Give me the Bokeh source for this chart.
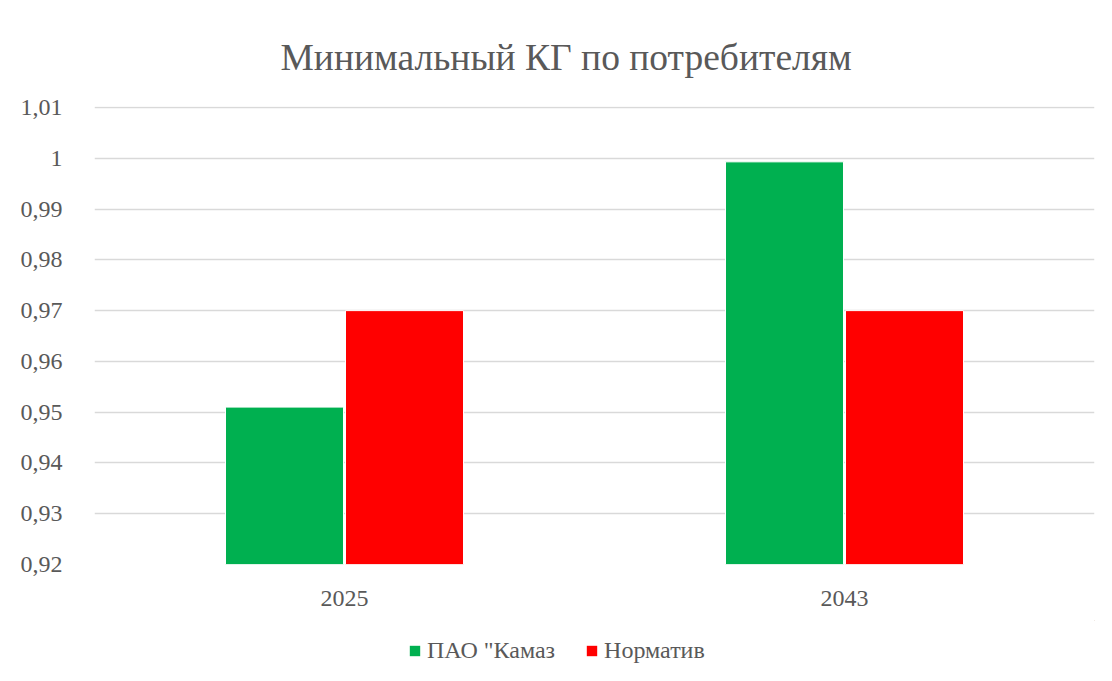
from bokeh.plotting import figure
from bokeh.models import FixedTicker, CustomJSTickFormatter, Legend, LegendItem, Range1d, ColumnDataSource
from bokeh.transform import dodge
from bokeh.layouts import column
from bokeh.embed import file_html
from bokeh.resources import INLINE

categories = ["2025", "2043"]
kamaz = [0.951, 0.9993]
normativ = [0.97, 0.97]
series_names = ['ПАО "Камаз', "Норматив"]
y_ticks = [0.92, 0.93, 0.94, 0.95, 0.96, 0.97, 0.98, 0.99, 1.0, 1.01]
title_text = "Минимальный КГ по потребителям"
colors = ["#00B050", "#FF0000"]

FONT = "Liberation Serif"
TXT = "#595959"

src = ColumnDataSource(dict(cat=categories, kamaz=kamaz, norm=normativ))

p = figure(x_range=categories, y_range=Range1d(0.92, 1.0102),
           frame_width=1000, frame_height=458, output_backend="svg", toolbar_location=None,
           min_border_left=94, min_border_right=10, min_border_top=106, min_border_bottom=56)

p.title.text = title_text
p.title.text_font = FONT
p.title.text_font_size = "37.5px"
p.title.text_font_style = "normal"
p.title.text_color = TXT
p.title.align = "left"
p.title.offset = 186
p.title.standoff = 58

r1 = p.vbar(x=dodge("cat", -0.12, range=p.x_range), top="kamaz", bottom=0.92, width=0.236,
            source=src, fill_color=colors[0], line_color="white", line_width=1)
r2 = p.vbar(x=dodge("cat", 0.12, range=p.x_range), top="norm", bottom=0.92, width=0.236,
            source=src, fill_color=colors[1], line_color="white", line_width=1)

p.yaxis.ticker = FixedTicker(ticks=y_ticks)
p.yaxis.formatter = CustomJSTickFormatter(code="""
var s = (Math.round(tick*100)/100).toString();
return s.replace('.', ',');
""")
for ax in (p.xaxis[0], p.yaxis[0]):
    ax.axis_line_color = None
    ax.major_tick_line_color = None
    ax.minor_tick_line_color = None
    ax.major_label_text_font = FONT
    ax.major_label_text_font_size = "24px"
    ax.major_label_text_color = TXT
p.yaxis.major_label_standoff = 26
p.xaxis.major_label_standoff = 20

p.xgrid.grid_line_color = None
p.ygrid.grid_line_color = "#d9d9d9"
p.ygrid.grid_line_width = 1.5
p.ygrid.ticker = FixedTicker(ticks=y_ticks)
p.outline_line_color = None

# legend strip below the chart (swatch renderers lie outside its visible range)
p2 = figure(width=1104, height=53, output_backend="svg", toolbar_location=None,
            x_axis_location=None, y_axis_location=None,
            x_range=Range1d(0, 1), y_range=Range1d(0, 1),
            min_border_left=0, min_border_right=0, min_border_top=0, min_border_bottom=0)
p2.grid.visible = False
p2.outline_line_color = None
s1 = p2.vbar(x=[5], top=[5], bottom=[4], width=0.1, fill_color=colors[0], line_color=None)
s2 = p2.vbar(x=[5], top=[5], bottom=[4], width=0.1, fill_color=colors[1], line_color=None)

legend = Legend(items=[LegendItem(label=series_names[0], renderers=[s1]),
                       LegendItem(label=series_names[1], renderers=[s2])],
                orientation="horizontal", location=(314, 9))
legend.label_text_font = FONT
legend.label_text_font_size = "24px"
legend.label_text_color = TXT
legend.glyph_width = 13
legend.glyph_height = 13
legend.spacing = 30
legend.label_standoff = 6
legend.label_height = 28
legend.border_line_color = None
legend.background_fill_alpha = 0
legend.padding = 0
legend.margin = 0
p2.add_layout(legend, "center")

layout = column(p, p2, spacing=0)
open("out.html", "w").write(file_html(layout, INLINE))
